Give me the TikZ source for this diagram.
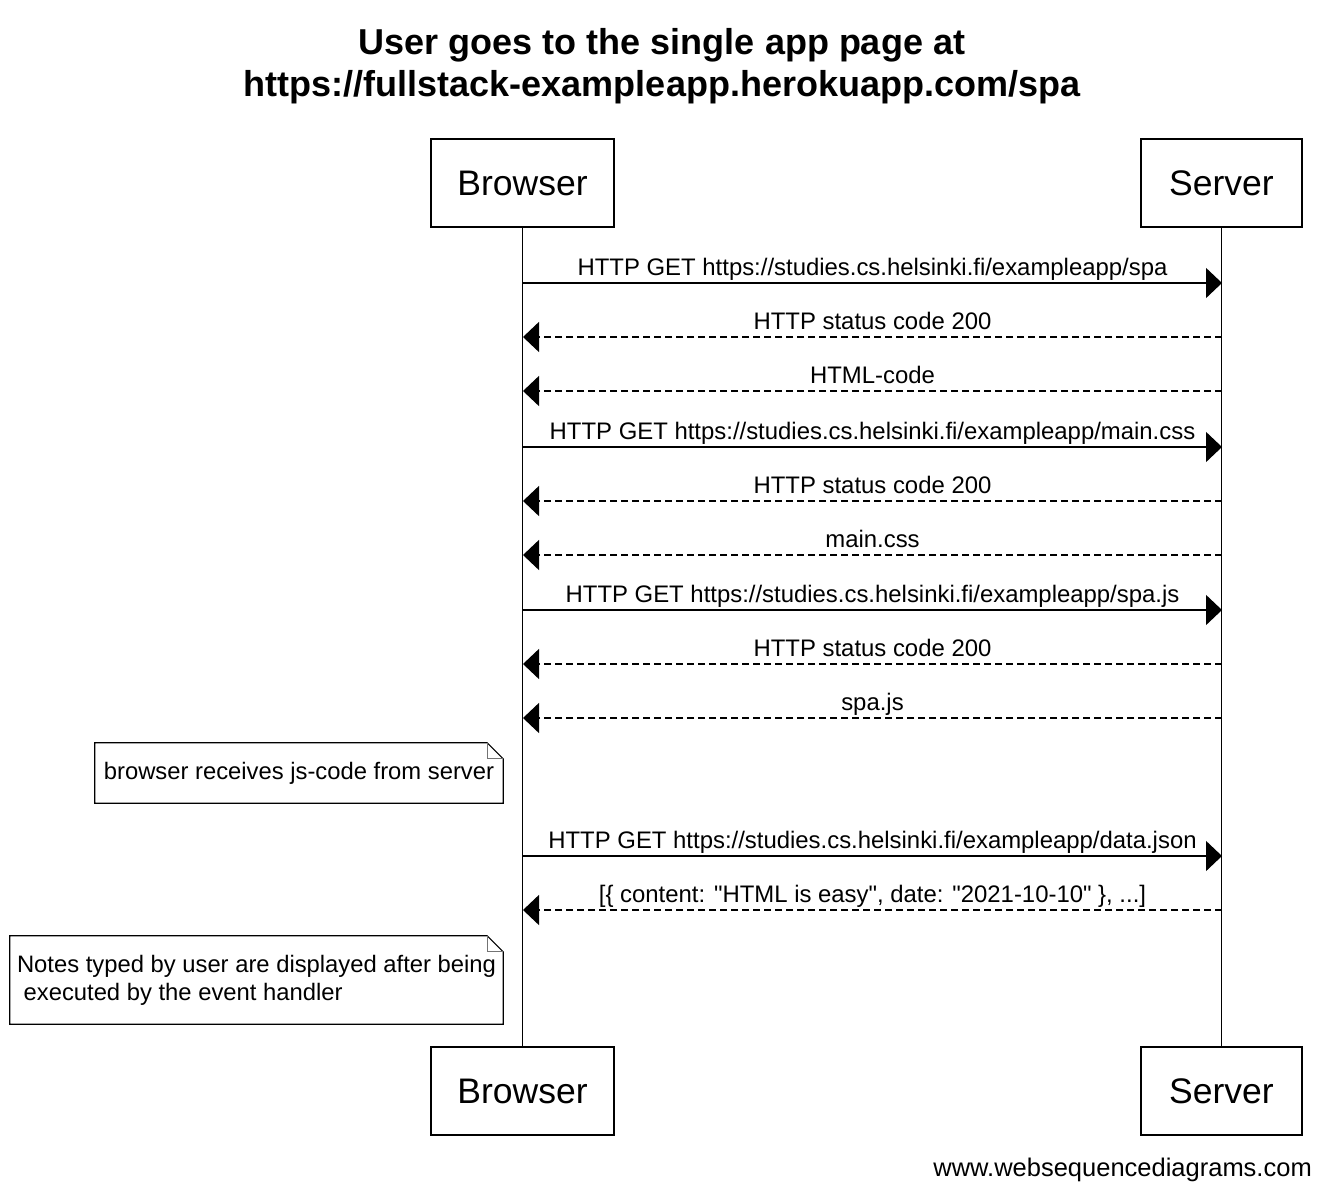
\documentclass[tikz,border=0pt]{standalone}
\usepackage{fontspec}
\setmainfont{Liberation Sans}
\usetikzlibrary{positioning,arrows.meta}

\begin{document}
\begin{tikzpicture}[x=1pt,y=-1pt,
    actor/.style={draw,line width=1.4pt,minimum height=88pt,inner sep=0pt,font=\fontsize{35.5}{40}\selectfont},
    lifeline/.style={line width=1.4pt},
    call/.style={line width=1.4pt,-{Triangle[length=16pt,width=30pt]}},
    reply/.style={call,dash pattern=on 7pt off 4pt},
    msglabel/.style={pos=0.5,anchor=base,yshift=7.5pt,inner sep=0pt,font=\fontsize{23.9}{28}\selectfont},
    note/.style={inner sep=0pt,font=\fontsize{23.8}{28}\selectfont},
    notebox/.style={line width=1.2pt},
    fold/.style={line width=1pt,black!55}]
    \useasboundingbox (0,0) rectangle (1322,1194);
    % title
    \node[anchor=base,font=\fontsize{36}{42}\selectfont\bfseries] (title1) at (662,54) {User goes to the single app page at};
    \node[anchor=base,font=\fontsize{36}{42}\selectfont\bfseries] (title2) at (662,96) {https://fullstack-exampleapp.herokuapp.com/spa};
    % participants
    \node[actor,minimum width=183pt] (bt) at (522.5,183) {Browser};
    \node[actor,minimum width=161pt] (st) at (1221.5,183) {Server};
    \node[actor,minimum width=183pt] (bb) at (522.5,1091) {Browser};
    \node[actor,minimum width=161pt] (sb) at (1221.5,1091) {Server};
    \draw[lifeline] (bt) -- (bb);
    \draw[lifeline] (st) -- (sb);
    % message rows
    \foreach \y [count=\i] in {283,337,391,447,501,555,610,664,718,856,910} {
        \coordinate (b\i) at (523,\y);
        \coordinate (s\i) at (1222,\y);
    }
    % messages
    \draw[call] (b1) -- (s1) node[msglabel] {HTTP GET https://studies.cs.helsinki.fi/exampleapp/spa};
    \draw[reply] (s2) -- (b2) node[msglabel] {HTTP status code 200};
    \draw[reply] (s3) -- (b3) node[msglabel] {HTML-code};
    \draw[call] (b4) -- (s4) node[msglabel] {HTTP GET https://studies.cs.helsinki.fi/exampleapp/main.css};
    \draw[reply] (s5) -- (b5) node[msglabel] {HTTP status code 200};
    \draw[reply] (s6) -- (b6) node[msglabel] {main.css};
    \draw[call] (b7) -- (s7) node[msglabel] {HTTP GET https://studies.cs.helsinki.fi/exampleapp/spa.js};
    \draw[reply] (s8) -- (b8) node[msglabel] {HTTP status code 200};
    \draw[reply] (s9) -- (b9) node[msglabel] {spa.js};
    \draw[call] (b10) -- (s10) node[msglabel] {HTTP GET https://studies.cs.helsinki.fi/exampleapp/data.json};
    \draw[reply] (s11) -- (b11) node[msglabel] {[\{ content: \textquotedbl HTML is easy\textquotedbl, date: \textquotedbl 2021-10-10\textquotedbl\ \}, ...]};
    % notes
    \node[note,minimum width=408pt,minimum height=60pt] (n1) at (299,773) {browser receives js-code from server};
    \node[note,minimum width=493pt,minimum height=88pt,align=left] (n2) at (256.5,980) {Notes typed by user are displayed after being\\\ executed by the event handler};
    \foreach \n in {n1,n2} {
        \draw[notebox] (\n.north west) -- ([xshift=-16pt]\n.north east) -- ([yshift=-16pt]\n.north east) -- (\n.south east) -- (\n.south west) -- cycle;
        \draw[fold] ([xshift=-16pt]\n.north east) |- ([yshift=-16pt]\n.north east);
    }
    % footer
    \node[anchor=base east,inner sep=0pt,font=\fontsize{25.5}{30}\selectfont] (credit) at (1312,1176.5) {www.websequencediagrams.com};
\end{tikzpicture}
\end{document}
